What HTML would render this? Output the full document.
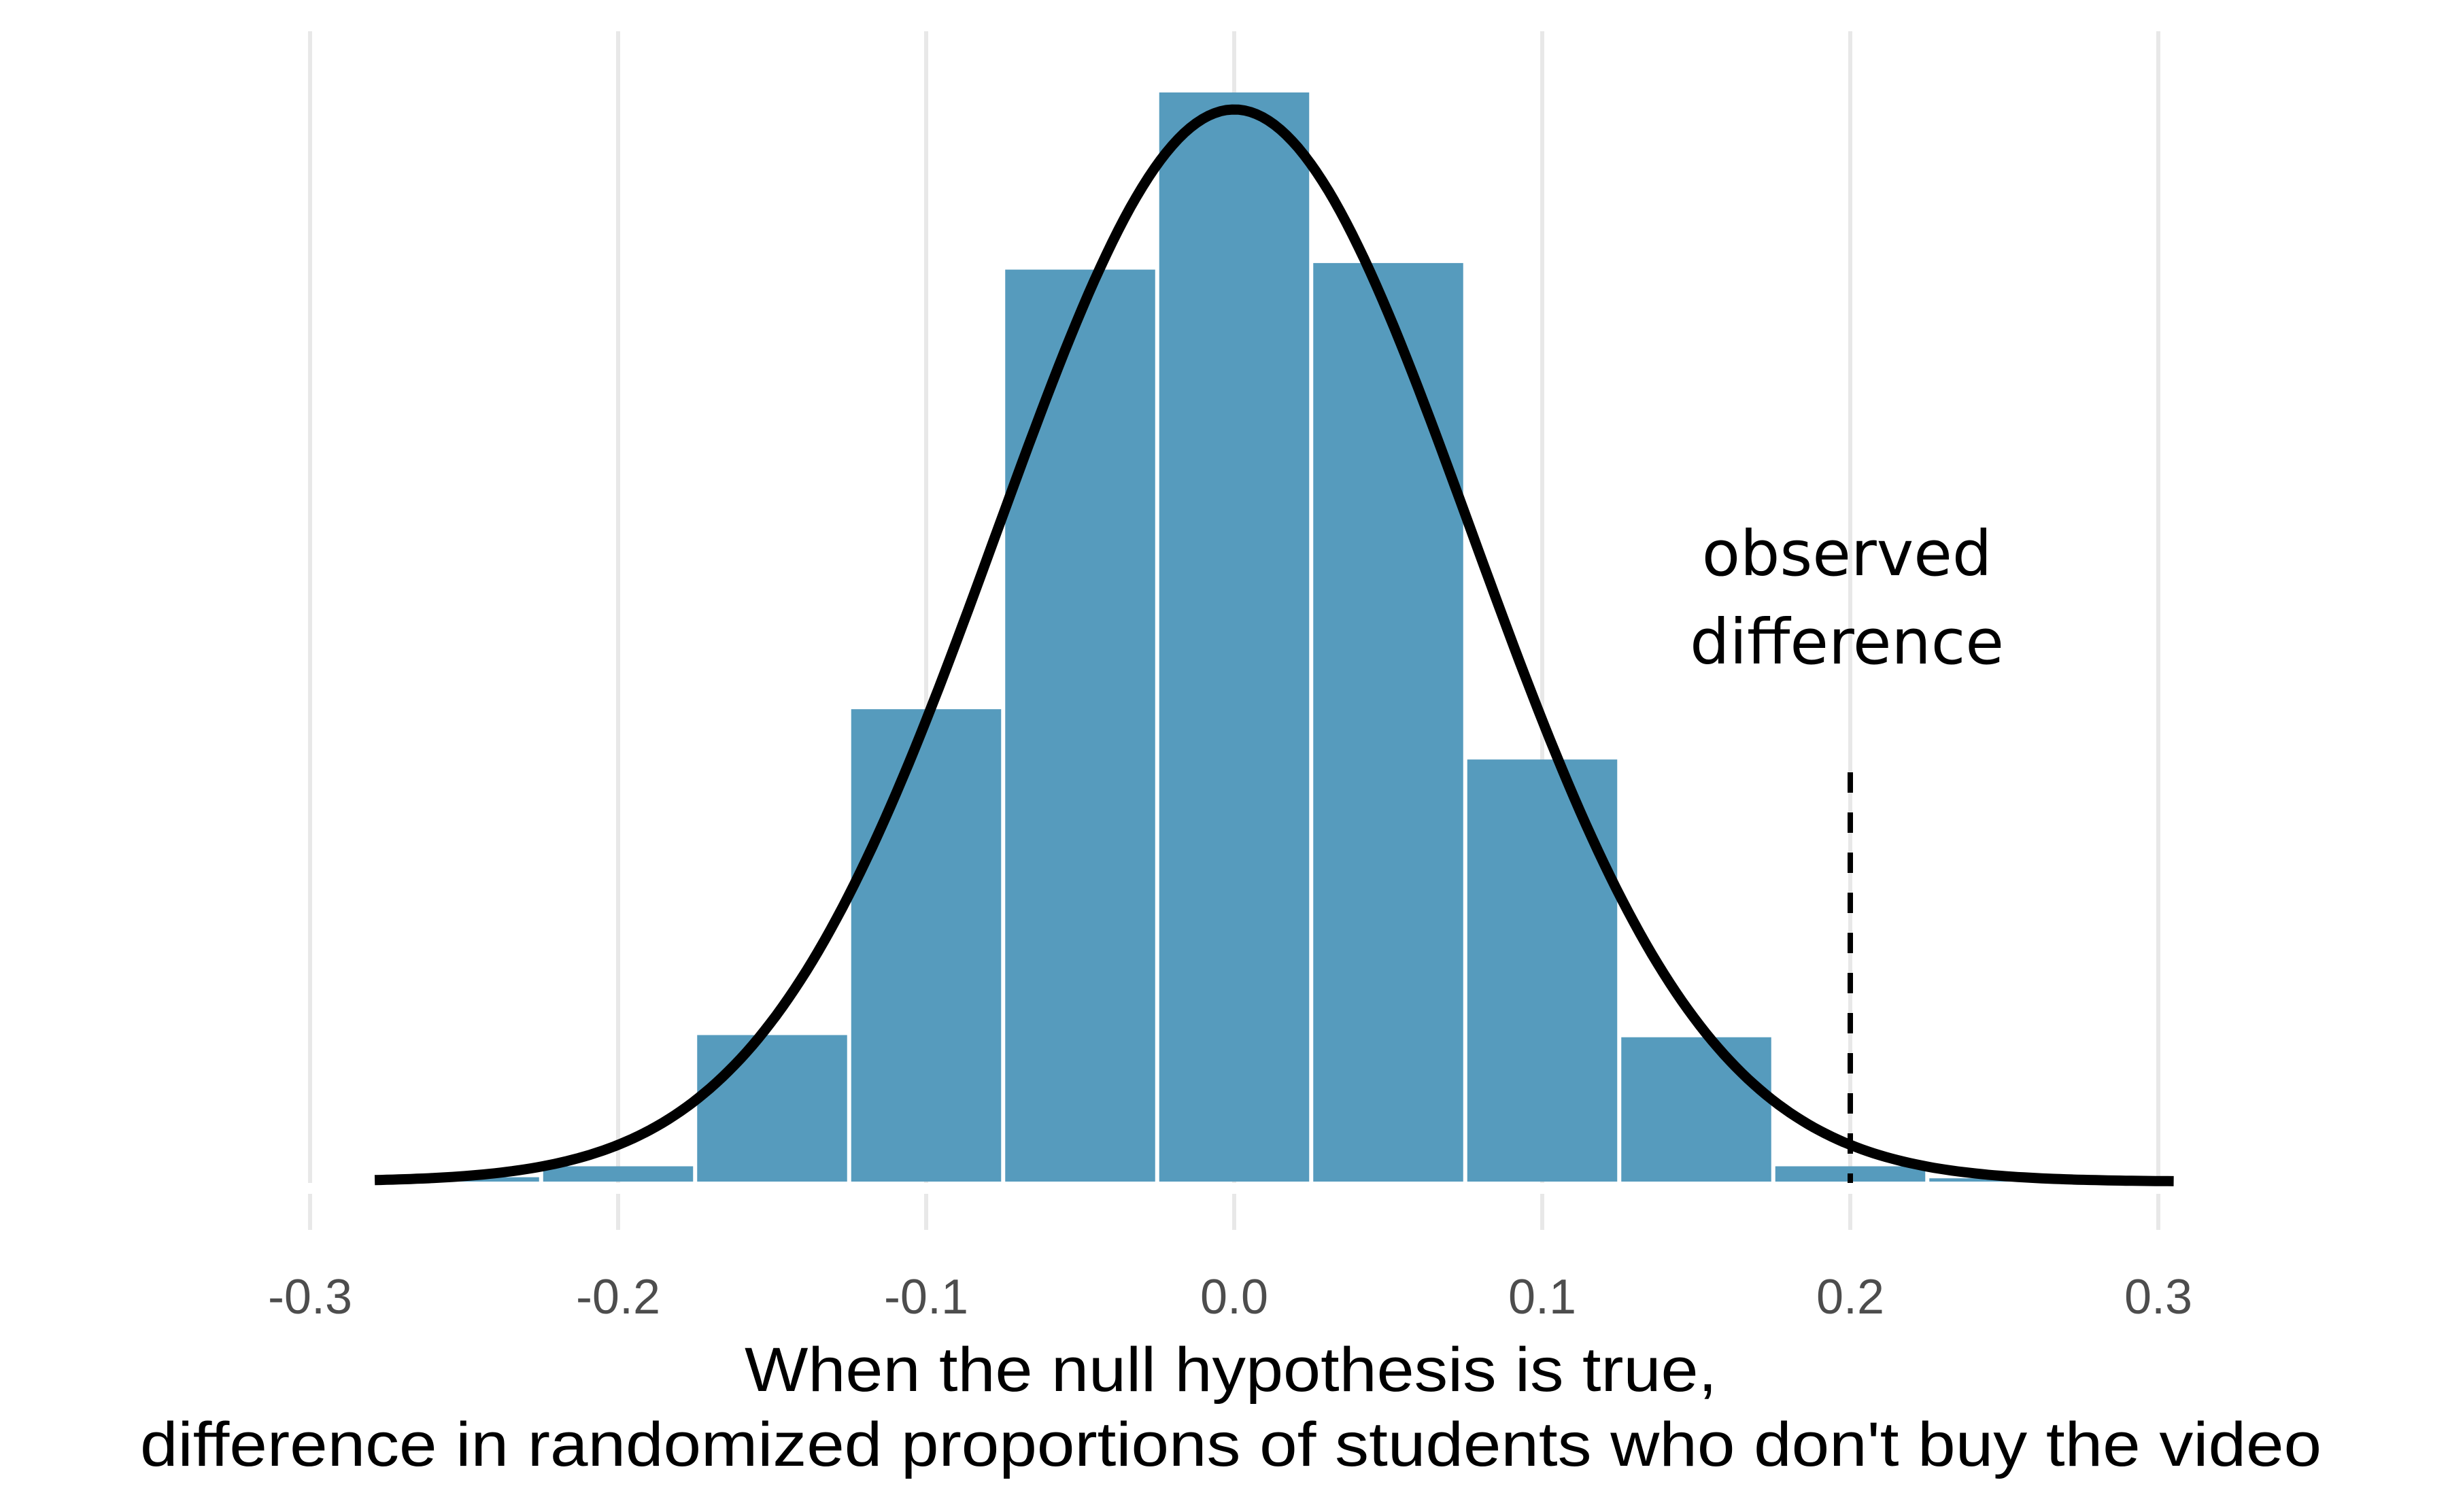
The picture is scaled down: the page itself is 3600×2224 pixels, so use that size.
<!DOCTYPE html>
<html><head><meta charset="utf-8"><style>
html,body{margin:0;padding:0;background:#fff;}
svg{display:block;}
</style></head><body>
<svg id="chart" width="3600" height="2224" viewBox="0 0 3600 2224" xmlns="http://www.w3.org/2000/svg">
<g id="grid"></g>
<g id="bars"></g>
<rect x="400" y="1740" width="2850" height="16" fill="#fff"/>
<g id="curve"></g>
<g id="obs"></g>
<g id="ticks"></g>
<text x="1810" y="2046" text-anchor="middle" font-family="Liberation Sans, sans-serif" font-size="92" fill="#000" textLength="1430" lengthAdjust="spacingAndGlyphs">When the null hypothesis is true,</text>
<text x="1810" y="2156" text-anchor="middle" font-family="Liberation Sans, sans-serif" font-size="92" fill="#000" textLength="3208" lengthAdjust="spacingAndGlyphs">difference in randomized proportions of students who don't buy the video</text>
<text text-anchor="middle" font-family="DejaVu Sans, sans-serif" font-size="92" fill="#000"><tspan x="2716" y="846">observed</tspan><tspan x="2716" y="976">difference</tspan></text>
</svg>
<script>
const binCenters = [-0.25,-0.2,-0.15,-0.1,-0.05,0,0.05,0.1,0.15,0.2,0.25];
const binCounts = [2,7,67,216,417,498,420,193,66,7,1.5];
const tickValues = [-0.3,-0.2,-0.1,0,0.1,0.2,0.3];
const tickLabels = ["-0.3","-0.2","-0.1","0.0","0.1","0.2","0.3"];
const curveSd = [0.077];
const observedDiff = [0.2];

const NS="http://www.w3.org/2000/svg";
const X0=1815, XS=4530, BASE=1738, YS=1602/498, BINW=0.05;
const xs=v=>X0+v*XS;
const ys=c=>BASE-c*YS;
function mk(tag,attrs,parent){const e=document.createElementNS(NS,tag);for(const k in attrs)e.setAttribute(k,attrs[k]);parent.appendChild(e);return e;}

const grid=document.getElementById('grid');
tickValues.forEach((t,i)=>{
  const l=mk('line',{x1:xs(t),x2:xs(t),y1:46,y2:1809,stroke:'#e8e8e8','stroke-width':6},grid);
  
  
});
const bars=document.getElementById('bars');
binCenters.forEach((c,i)=>{
  const x1=xs(c-BINW/2)+3, x2=xs(c+BINW/2)-3;
  const r=mk('rect',{x:x1,y:ys(binCounts[i]),width:x2-x1,height:BASE-ys(binCounts[i]),fill:'#569BBD'},bars);
  
  
});
const curve=document.getElementById('curve');
const sd=curveSd[0], peak=1577;
let d='';
for(let i=0;i<=300;i++){const v=-0.279+i*(0.584/300);const y=BASE-peak*Math.exp(-v*v/(2*sd*sd));d+=(i?'L':'M')+xs(v).toFixed(1)+' '+y.toFixed(1);}
const p=mk('path',{d:d,fill:'none',stroke:'#000','stroke-width':15,'stroke-linejoin':'round'},curve);


const obs=document.getElementById('obs');
const dl=mk('line',{x1:xs(observedDiff[0]),x2:xs(observedDiff[0]),y1:1136,y2:1740,stroke:'#000','stroke-width':8,'stroke-dasharray':'30 29'},obs);


const ticks=document.getElementById('ticks');
tickValues.forEach((t,i)=>{
  const tx=mk('text',{x:xs(t),y:1932,'text-anchor':'middle','font-family':'Liberation Sans, sans-serif','font-size':72,fill:'#4d4d4d'},ticks);
  tx.textContent=tickLabels[i];
  
  
});
</script>
</body></html>
